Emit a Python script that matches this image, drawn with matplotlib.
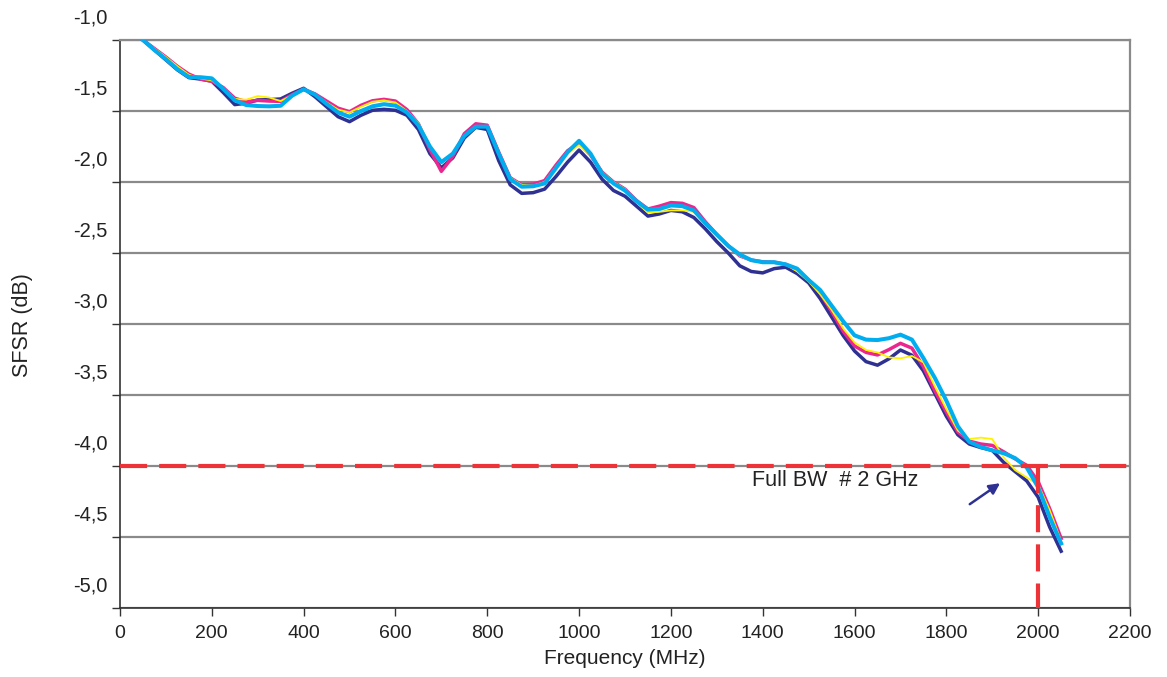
import numpy as np
import matplotlib.pyplot as plt
from matplotlib.transforms import ScaledTranslation

plt.rcParams['font.family'] = ['Liberation Sans', 'DejaVu Sans']

# frequency points (MHz), read every 25 MHz off the reference
freq = list(range(50, 2051, 25))

navy = [-1.00, -1.07, -1.14, -1.21, -1.265, -1.275, -1.29, -1.37, -1.455, -1.445,
        -1.422, -1.42, -1.415, -1.375, -1.34, -1.40, -1.47, -1.54, -1.575, -1.53,
        -1.495, -1.488, -1.495, -1.53, -1.63, -1.80, -1.90, -1.83, -1.69, -1.615,
        -1.63, -1.85, -2.02, -2.08, -2.075, -2.05, -1.96, -1.86, -1.775, -1.86,
        -1.98, -2.06, -2.10, -2.17, -2.24, -2.225, -2.20, -2.21, -2.25, -2.33,
        -2.42, -2.50, -2.59, -2.63, -2.64, -2.61, -2.60, -2.645, -2.71, -2.82,
        -2.95, -3.08, -3.19, -3.265, -3.29, -3.245, -3.183, -3.22, -3.33, -3.49,
        -3.65, -3.78, -3.845, -3.87, -3.89, -3.975, -4.04, -4.105, -4.22, -4.43,
        -4.60]

magenta = [-1.00, -1.06, -1.12, -1.185, -1.24, -1.275, -1.29, -1.335, -1.41, -1.435,
           -1.425, -1.43, -1.432, -1.385, -1.347, -1.38, -1.43, -1.48, -1.505, -1.46,
           -1.428, -1.418, -1.43, -1.49, -1.59, -1.77, -1.925, -1.82, -1.66, -1.59,
           -1.60, -1.79, -1.97, -2.02, -2.015, -1.99, -1.88, -1.78, -1.725, -1.81,
           -1.93, -2.00, -2.05, -2.13, -2.19, -2.17, -2.145, -2.15, -2.18, -2.28,
           -2.37, -2.45, -2.52, -2.55, -2.562, -2.565, -2.58, -2.62, -2.69, -2.78,
           -2.91, -3.05, -3.155, -3.20, -3.218, -3.18, -3.136, -3.17, -3.30, -3.47,
           -3.62, -3.76, -3.825, -3.845, -3.855, -3.90, -3.95, -3.995, -4.11, -4.30,
           -4.51]

yellow = [-1.00, -1.06, -1.12, -1.185, -1.245, -1.27, -1.285, -1.34, -1.415, -1.42,
          -1.395, -1.405, -1.43, -1.39, -1.347, -1.385, -1.44, -1.49, -1.51, -1.47,
          -1.435, -1.425, -1.44, -1.50, -1.585, -1.74, -1.86, -1.80, -1.68, -1.605,
          -1.605, -1.79, -1.97, -2.02, -2.025, -2.00, -1.89, -1.80, -1.74, -1.81,
          -1.93, -2.00, -2.05, -2.14, -2.215, -2.21, -2.20, -2.20, -2.21, -2.30,
          -2.38, -2.455, -2.52, -2.555, -2.565, -2.57, -2.58, -2.63, -2.70, -2.79,
          -2.90, -3.03, -3.13, -3.183, -3.20, -3.235, -3.242, -3.225, -3.27, -3.44,
          -3.60, -3.75, -3.81, -3.80, -3.81, -3.94, -4.03, -4.08, -4.13, -4.31,
          -4.53]

cyan = [-1.00, -1.07, -1.135, -1.205, -1.26, -1.262, -1.27, -1.345, -1.425, -1.458,
        -1.465, -1.467, -1.463, -1.392, -1.347, -1.385, -1.45, -1.51, -1.54, -1.50,
        -1.467, -1.452, -1.462, -1.51, -1.60, -1.75, -1.86, -1.80, -1.675, -1.61,
        -1.61, -1.80, -1.98, -2.033, -2.03, -2.01, -1.90, -1.79, -1.71, -1.80,
        -1.94, -2.01, -2.06, -2.135, -2.195, -2.19, -2.165, -2.17, -2.20, -2.29,
        -2.37, -2.45, -2.51, -2.55, -2.565, -2.565, -2.58, -2.61, -2.69, -2.76,
        -2.87, -2.98, -3.08, -3.11, -3.113, -3.10, -3.075, -3.11, -3.24, -3.38,
        -3.54, -3.72, -3.83, -3.866, -3.89, -3.91, -3.945, -4.01, -4.15, -4.36,
        -4.545]

xticks = list(range(0, 2201, 200))
yticks = [-1.0, -1.5, -2.0, -2.5, -3.0, -3.5, -4.0, -4.5, -5.0]
ytick_labels = ['-1,0', '-1,5', '-2,0', '-2,5', '-3,0', '-3,5', '-4,0', '-4,5', '-5,0']

bw_freq = 2000
bw_level = -4.0

fig = plt.figure(figsize=(11.67, 6.77), dpi=100)
ax = fig.add_axes([0.1028, 0.1019, 0.8655, 0.839])

for y in yticks:
    ax.axhline(y, color='#8a8a8a', lw=1.6, zorder=1)

ax.plot(freq, navy, color='#2e3192', lw=2.5, zorder=3, solid_joinstyle='round')
ax.plot(freq, magenta, color='#ec268f', lw=2.5, zorder=4, solid_joinstyle='round')
ax.plot(freq, yellow, color='#fff200', lw=1.3, zorder=5, solid_joinstyle='round')
ax.plot(freq, cyan, color='#00aeef', lw=2.9, zorder=6, solid_joinstyle='round')

red = '#ee3338'
ax.axhline(bw_level, color=red, lw=3, dashes=(6.5, 2.9), zorder=7)
ax.plot([bw_freq, bw_freq], [bw_level, -5.0], color=red, lw=3,
        dashes=(6.5, 2.9), zorder=7)

ax.text(1376, -4.10, 'Full BW  # 2 GHz', fontsize=15.5, color='#222222',
        va='center', ha='left', zorder=8)
ax.annotate('', xy=(1922, -4.11), xytext=(1846, -4.28),
            arrowprops=dict(arrowstyle='-|>', color='#2e3192', lw=1.8,
                            mutation_scale=16), zorder=8)

ax.set_xlim(0, 2200)
ax.set_ylim(-5.0, -1.0)
ax.set_xticks(xticks)
ax.set_xticklabels([str(t) for t in xticks], fontsize=14, color='#222222')
ax.set_yticks(yticks)
ax.set_yticklabels([])
ax.tick_params(axis='both', direction='out', length=6, width=1, color='#333333')
ax.tick_params(axis='x', pad=6)

# y labels sit above their tick marks in the original
offset = ScaledTranslation(0, 0.22, fig.dpi_scale_trans)
trans = ax.get_yaxis_transform() + offset
for y, lab in zip(yticks, ytick_labels):
    ax.text(-0.012, y, lab, transform=trans, ha='right', va='center',
            fontsize=14.5, color='#222222')

for s in ['top', 'right']:
    ax.spines[s].set_color('#8a8a8a')
    ax.spines[s].set_linewidth(1.6)
for s in ['left', 'bottom']:
    ax.spines[s].set_color('#333333')
    ax.spines[s].set_linewidth(1.2)

ax.set_xlabel('Frequency (MHz)', fontsize=15, color='#222222', labelpad=5)
fig.text(0.019, 0.52, 'SFSR (dB)', rotation=90, fontsize=15.5, color='#222222',
         ha='center', va='center')

fig.savefig('out.png', dpi=100)
